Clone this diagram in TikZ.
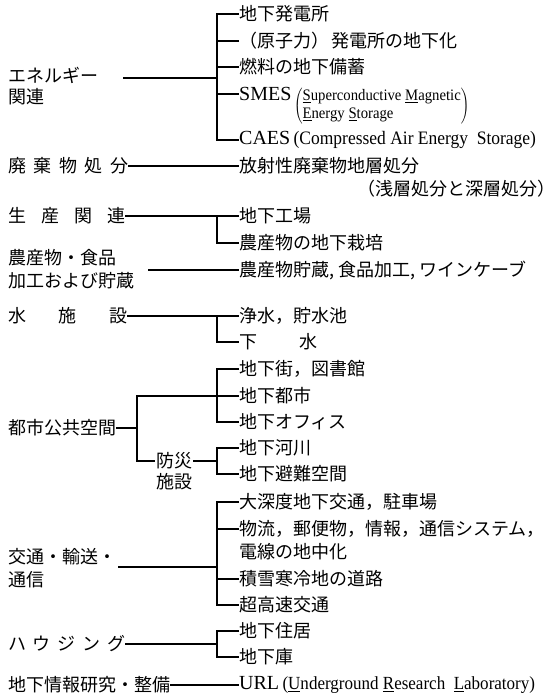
\documentclass[tikz,border=0pt]{standalone}
\usepackage{fontspec}
\setmainfont{Liberation Serif}
\newfontfamily\jp{Noto Sans CJK JP}
\newfontfamily\cond[FakeStretch=0.92]{Liberation Serif}
\newcommand{\spreadtext}[2]{\makebox[#1][s]{#2}}
\begin{document}
\begin{tikzpicture}[x=1pt,y=-1pt,
  ln/.style={line width=1.3pt, line cap=butt},
  jt/.style={font=\jp\fontsize{18}{22}\selectfont, inner sep=0pt, anchor=west},
  lt/.style={font=\fontsize{20}{24}\selectfont, inner sep=0pt, anchor=west},
  st/.style={font=\cond\fontsize{16}{18}\selectfont, inner sep=0pt, anchor=west},
]
\fill[white] (0,0) rectangle (558,699);
\useasboundingbox (0,0) rectangle (558,699);
\coordinate (tr) at (217,0);
\coordinate (ub) at (137,0);

% ---------- energy ----------
\node[jt] (Le1) at (8,75) {エネルギー};
\node[jt] (Le2) at (8,97) {関連};
\coordinate (e0) at (123,78);
\node[jt] (c1) at (239,14) {地下発電所};
\node[jt] (c2) at (239,41) {（原子力）\hspace{2pt}発電所の地下化};
\node[jt] (c3) at (239,67) {燃料の地下備蓄};
\node[lt] (c4) at (239,94) {SMES};
\node[st] (c4p) at ([xshift=2pt]c4.east |- 0,106) {$\left(\mbox{\begin{tabular}{@{}l@{}}\underline{S}uperconductive \underline{M}agnetic\\ \underline{E}nergy \underline{S}torage\end{tabular}}\right)$};
\node[lt] (c5) at (239,140) {CAES\,{\cond\fontsize{19}{22}\selectfont(Compressed Air Energy\ \ Storage)}};
\draw[ln] (e0) -- (e0 -| tr);
\draw[ln] (c1.west) -- (c1.west -| tr) -- (c5.west -| tr) -- (c5.west);
\draw[ln] (c2.west) -- (c2.west -| tr);
\draw[ln] (c3.west) -- (c3.west -| tr);
\draw[ln] (c4.west) -- (c4.west -| tr);

% ---------- waste ----------
\node[jt] (Lw) at (8,166) {\spreadtext{120pt}{廃\hfill 棄\hfill 物\hfill 処\hfill 分}};
\node[jt] (c6) at (239,166) {放射性廃棄物地層処分};
\node[jt, anchor=east] (c6b) at (556,189) {（浅層処分と深層処分）};
\draw[ln] (Lw.east) -- (c6.west);

% ---------- production ----------
\node[jt] (Lp) at (8,216) {\spreadtext{117pt}{生\hfill 産\hfill 関\hfill 連}};
\node[jt] (c7) at (239,216) {地下工場};
\node[jt] (c8) at (239,243) {農産物の地下栽培};
\draw[ln] (Lp.east) -- (c7.west);
\draw[ln] (c7.west -| tr) -- (c8.west -| tr) -- (c8.west);

% ---------- agriculture ----------
\node[jt] (La1) at (8,258) {農産物・食品};
\node[jt] (La2) at (8,281) {加工および貯蔵};
\coordinate (a0) at (148,270);
\node[jt] (c9) at (239,270) {農産物貯蔵, 食品加工, ワインケーブ};
\draw[ln] (a0) -- (c9.west);

% ---------- water ----------
\node[jt] (Lwa) at (8,316) {\spreadtext{119pt}{水\hfill 施\hfill 設}};
\node[jt] (c10) at (239,316) {浄水，貯水池};
\node[jt] (c11) at (239,342) {下\hspace{42pt}水};
\draw[ln] (Lwa.east) -- (c10.west);
\draw[ln] (c10.west -| tr) -- (c11.west -| tr) -- (c11.west);

% ---------- urban ----------
\node[jt] (Lu) at (8,428) {都市公共空間};
\node[jt] (c12) at (239,369) {地下街，図書館};
\node[jt] (c13) at (239,396) {地下都市};
\node[jt] (c14) at (239,422) {地下オフィス};
\node[jt] (c15) at (239,448) {地下河川};
\node[jt] (c16) at (239,474) {地下避難空間};
\node[jt, anchor=center, inner xsep=1pt] (Lb1) at (174,461) {防災};
\node[jt, anchor=center] (Lb2) at (174,482) {施設};
\draw[ln] (Lu.east) -- (Lu.east -| ub);
\draw[ln] (c13.west) -- (c13.west -| ub) -- (Lb1.west -| ub) -- (Lb1.west);
\draw[ln] (c12.west) -- (c12.west -| tr) -- (c14.west -| tr) -- (c14.west);
\draw[ln] (Lb1.east) -- (Lb1.east -| tr);
\draw[ln] (c15.west) -- (c15.west -| tr) -- (c16.west -| tr) -- (c16.west);

% ---------- traffic ----------
\node[jt] (Lt1) at (8,557) {交通・輸送・};
\node[jt] (Lt2) at (8,580) {通信};
\coordinate (t0) at (118,567);
\node[jt] (c17) at (239,502) {大深度地下交通，駐車場};
\node[jt] (c18) at (239,529) {物流，郵便物，情報，通信システム，};
\node[jt] (c18b) at (239,552) {電線の地中化};
\node[jt] (c19) at (239,579) {積雪寒冷地の道路};
\node[jt] (c20) at (239,605) {超高速交通};
\draw[ln] (t0) -- (t0 -| tr);
\draw[ln] (c17.west) -- (c17.west -| tr) -- (c20.west -| tr) -- (c20.west);
\draw[ln] (c18.west) -- (c18.west -| tr);
\draw[ln] (c19.west) -- (c19.west -| tr);

% ---------- housing ----------
\node[jt] (Lh) at (8,644) {\spreadtext{117pt}{ハ\hfill ウ\hfill ジ\hfill ン\hfill グ}};
\node[jt] (c21) at (239,631) {地下住居};
\node[jt] (c22) at (239,657) {地下庫};
\draw[ln] (Lh.east) -- (Lh.east -| tr);
\draw[ln] (c21.west) -- (c21.west -| tr) -- (c22.west -| tr) -- (c22.west);

% ---------- URL ----------
\node[jt] (Lr) at (8,685) {地下情報研究・整備};
\node[lt] (c23) at (239,685) {URL\,{\cond\fontsize{18.5}{22}\selectfont(\underline{U}nderground \underline{R}esearch\ \ \underline{L}aboratory)}};
\draw[ln] (Lr.east) -- (c23.west);
\end{tikzpicture}
\end{document}
